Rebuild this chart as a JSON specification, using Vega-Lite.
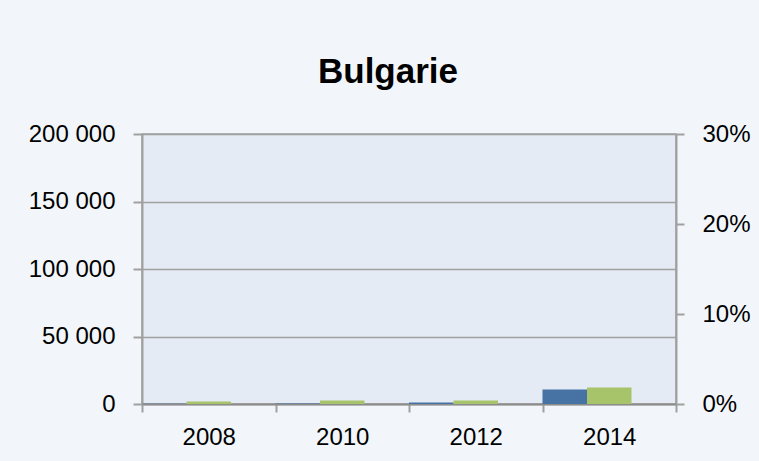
{
  "$schema": "https://vega.github.io/schema/vega-lite/v6.json",
  "width": 534,
  "height": 270,
  "autosize": {"type": "none"},
  "padding": {"left": 142, "top": 134, "right": 83, "bottom": 57},
  "background": "#F2F6FA",
  "config": {
    "locale": {"number": {"decimal": ",", "thousands": " ", "grouping": [3], "currency": ["", " €"]}},
    "view": {"fill": "#E4EBF5", "stroke": "#A0A0A0", "strokeWidth": 1.5},
    "axis": {"labelFont": "Liberation Sans", "labelFontSize": 24, "labelColor": "#000000", "domainColor": "#A0A0A0", "domainWidth": 2, "tickColor": "#A0A0A0", "tickWidth": 2, "title": null}
  },
  "title": {"text": "Bulgarie", "font": "Liberation Sans", "fontSize": 35, "fontWeight": "bold", "color": "#000000", "anchor": "middle", "dx": -21, "baseline": "alphabetic", "offset": 4},
  "data": {
    "values": [
      {"annee": "2008", "serie": "Série 1", "valeur": 150},
      {"annee": "2010", "serie": "Série 1", "valeur": 300},
      {"annee": "2012", "serie": "Série 1", "valeur": 1100},
      {"annee": "2014", "serie": "Série 1", "valeur": 10700},
      {"annee": "2008", "serie": "Série 2", "valeur": 1900},
      {"annee": "2010", "serie": "Série 2", "valeur": 2600},
      {"annee": "2012", "serie": "Série 2", "valeur": 2600},
      {"annee": "2014", "serie": "Série 2", "valeur": 12150},
      {"annee": "2008", "serie": "Part", "valeur": 0},
      {"annee": "2010", "serie": "Part", "valeur": 0},
      {"annee": "2012", "serie": "Part", "valeur": 0},
      {"annee": "2014", "serie": "Part", "valeur": 0}
    ]
  },
  "encoding": {
    "x": {
      "field": "annee", "type": "nominal",
      "scale": {"paddingInner": 0, "paddingOuter": 0},
      "axis": {"labelAngle": 0, "tickBand": "extent", "tickSize": 8, "labelPadding": 13, "domainColor": "#8C8C8C", "grid": false}
    },
    "xOffset": {
      "field": "serie", "type": "nominal",
      "scale": {"domain": ["Série 1", "Série 2", "Part"], "paddingInner": 0, "paddingOuter": 0}
    }
  },
  "layer": [
    {
      "transform": [{"filter": "datum.serie !== 'Part'"}],
      "mark": {"type": "bar"},
      "encoding": {
        "y": {
          "field": "valeur", "type": "quantitative",
          "scale": {"domain": [0, 200000], "nice": false},
          "axis": {"values": [0, 50000, 100000, 150000, 200000], "format": ",d", "tickSize": 9, "labelPadding": 18, "grid": true, "gridColor": "#A0A0A0", "gridWidth": 1.5}
        },
        "color": {"field": "serie", "type": "nominal", "scale": {"domain": ["Série 1", "Série 2"], "range": ["#4672A4", "#A8C46A"]}, "legend": null}
      }
    },
    {
      "transform": [{"filter": "datum.serie === 'Part'"}],
      "mark": {"type": "bar", "color": "#B9504D"},
      "encoding": {
        "y": {
          "field": "valeur", "type": "quantitative",
          "scale": {"domain": [0, 0.3], "nice": false},
          "axis": {"orient": "right", "values": [0, 0.1, 0.2, 0.3], "format": ".0%", "tickSize": 8, "labelPadding": 18, "grid": false}
        }
      }
    }
  ],
  "resolve": {"scale": {"y": "independent", "color": "independent"}}
}
